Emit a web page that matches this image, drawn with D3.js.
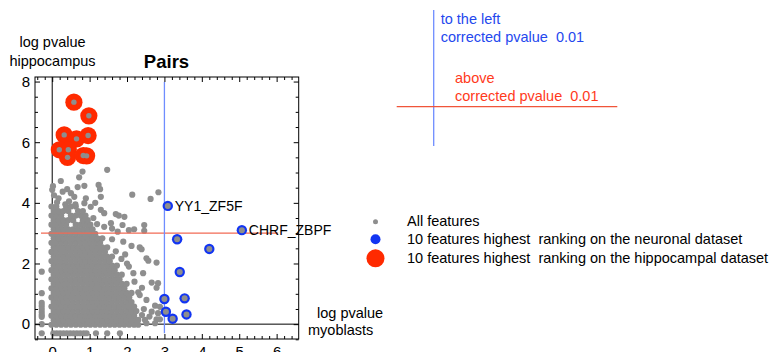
<!DOCTYPE html>
<html>
<head>
<meta charset="utf-8">
<script src="https://cdn.jsdelivr.net/npm/d3@7"></script>
<style>
  html, body { margin: 0; padding: 0; background: #fff; }
  svg { display: block; font-family: "Liberation Sans", Arial, Helvetica, sans-serif; }
</style>
</head>
<body>
<svg id="chart" width="777" height="352"></svg>
<script>
// ---- data -------------------------------------------------------------
// Dense part of the feature cloud, one row per log-pvalue (hippocampus) band:
// [y, [x values]]
const featureRows = [
  [-0.02, [-0.02,.11,.24,.37,.50,.63,.76,.89,1.02,1.15,1.28,1.41,1.54,1.67,1.80,1.93,2.06,2.19,2.30]],
  [0.13, [.04,.17,.30,.43,.56,.69,.82,.95,1.08,1.21,1.34,1.47,1.60,1.73,1.86,1.99,2.12,2.25]],
  [0.28, [-0.02,.11,.24,.37,.50,.63,.76,.89,1.02,1.15,1.28,1.41,1.54,1.67,1.80,1.93,2.06,2.19]],
  [0.43, [.04,.17,.30,.43,.56,.69,.82,.95,1.08,1.21,1.34,1.47,1.60,1.73,1.86,1.99,2.12,2.25]],
  [0.58, [-0.02,.11,.24,.37,.50,.63,.76,.89,1.02,1.15,1.28,1.41,1.54,1.67,1.80,1.93,2.06,2.19]],
  [0.73, [.04,.17,.30,.43,.56,.69,.82,.95,1.08,1.21,1.34,1.47,1.60,1.73,1.86,1.99,2.12]],
  [0.88, [-0.02,.11,.24,.37,.50,.63,.76,.89,1.02,1.15,1.28,1.41,1.54,1.67,1.80,1.93,2.06]],
  [1.03, [.04,.17,.30,.43,.56,.69,.82,.95,1.08,1.21,1.34,1.47,1.60,1.73,1.86,1.99,2.12]],
  [1.18, [-0.02,.11,.24,.37,.50,.63,.76,.89,1.02,1.15,1.28,1.41,1.54,1.67,1.80,1.93]],
  [1.33, [.04,.17,.30,.43,.56,.69,.82,.95,1.08,1.21,1.34,1.47,1.60,1.73,1.86,1.99]],
  [1.48, [-0.02,.11,.24,.37,.50,.63,.76,.89,1.02,1.15,1.28,1.41,1.54,1.67,1.80]],
  [1.63, [.04,.17,.30,.43,.56,.69,.82,.95,1.08,1.21,1.34,1.47,1.60,1.73,1.86]],
  [1.78, [-0.02,.11,.24,.37,.50,.63,.76,.89,1.02,1.15,1.28,1.41,1.54,1.67]],
  [1.93, [.04,.17,.30,.43,.56,.69,.82,.95,1.08,1.21,1.34,1.47,1.60,1.73]],
  [2.08, [-0.02,.11,.24,.37,.50,.63,.76,.89,1.02,1.15,1.28,1.41,1.54]],
  [2.23, [.04,.17,.30,.43,.56,.69,.82,.95,1.08,1.21,1.34,1.47,1.60]],
  [2.38, [-0.02,.11,.24,.37,.50,.63,.76,.89,1.02,1.15,1.28,1.41]],
  [2.53, [.04,.17,.30,.43,.56,.69,.82,.95,1.08,1.21,1.34,1.47]],
  [2.68, [-0.02,.11,.24,.37,.50,.63,.76,.89,1.02,1.15,1.28]],
  [2.83, [.04,.17,.30,.43,.56,.69,.82,.95,1.08,1.21,1.34]],
  [2.98, [-0.02,.11,.24,.37,.50,.63,.76,.89,1.02,1.15]],
  [3.13, [.04,.17,.30,.43,.56,.69,.82,.95,1.08]],
  [3.28, [-0.02,.11,.24,.37,.63,.76,.89,1.02]],
  [3.43, [.04,.17,.30,.43,.56,.82,.95]],
  [3.58, [-0.02,.11,.24,.50,.63,.76,.89]],
  [3.73, [.04,.17,.30,.43,.69,.82]],
  [3.88, [-0.02,.11,.37,.50,.63]]
];

// Features with a negative myoblast score (column at x = -0.28)
const leftColumnX = -0.28;
const leftColumnY = [1.73, 1.02, 0.70, 0.60, 0.50, 0.40, 0.31, 0.24, 0.0, -0.30];

// Features with a negative hippocampus score (row at y = -0.30)
const bottomRowY = -0.30;
const bottomRowX = [0.03, 0.12, 0.21, 0.30, 0.39, 0.48, 0.57, 0.66, 0.75, 0.84, 0.92, 1.17, 1.47, 1.81];

// Isolated features around the cloud: [x, y]
const scatteredFeatures = [
  [0.81,5.03],[0.72,4.84],[1.47,5.09],[0.23,4.72],[0.02,4.55],[0.00,4.43],[0.28,4.37],
  [0.50,4.32],[0.68,4.52],[0.86,4.56],[1.24,4.59],[1.28,4.45],[0.59,4.20],[0.90,4.15],
  [1.30,4.20],[2.14,4.27],[2.63,4.13],[2.84,4.35],[0.86,3.99],[1.03,3.87],[1.30,3.77],
  [1.39,3.66],[1.70,3.63],[1.78,3.58],[1.93,3.54],[1.57,3.33],[1.88,3.27],[2.19,3.13],
  [2.46,3.27],[2.46,3.08],[1.39,3.21],[0.13,4.02],[0.35,3.95],[0.45,4.05],[0.17,4.15],
  [0.05,4.25],[0.62,3.95],[1.15,4.00],[1.10,3.50],[1.20,3.30],[1.60,3.15],[1.75,3.05],
  [2.05,3.10],[0.40,4.45],
  [1.90,2.72],[2.12,2.58],[2.34,2.53],[2.39,2.47],[2.52,2.17],[2.57,2.09],[2.79,2.03],
  [1.95,2.30],[2.00,2.00],[2.17,1.68],[2.43,1.68],[2.66,1.37],[2.83,1.35],[2.79,1.20],
  [2.34,0.96],[2.52,0.80],[2.75,0.61],[2.88,0.57],[2.66,0.41],[2.83,0.36],[2.79,0.16],
  [2.48,0.14],[2.52,0.03],[2.75,0.03],[2.30,0.14],[2.88,0.16],[1.70,2.40],[1.85,2.15],
  [2.20,1.40],[2.40,1.20],[2.45,0.50],[2.60,0.25],[1.60,2.80],[2.05,1.90],[2.30,1.05],
  [2.40,0.30]
];

// Top 10 features on the neuronal dataset
const neuronalX = [3.09, 5.07, 3.34, 4.20, 3.41, 3.00, 3.54, 3.04, 3.22, 3.59];
const neuronalY = [3.90, 3.10, 2.80, 2.48, 1.72, 0.83, 0.85, 0.41, 0.18, 0.32];
const neuronalNames = ["YY1_ZF5F", "CHRF_ZBPF", "", "", "", "", "", "", "", ""];

// Top 10 features on the hippocampal dataset
const hippocampalX = [0.58, 0.98, 0.32, 0.65, 0.96, 0.19, 0.43, 0.41, 0.83, 0.92];
const hippocampalY = [7.32, 6.87, 6.24, 6.11, 6.22, 5.75, 5.75, 5.50, 5.56, 5.55];

// Significance thresholds (log corrected pvalue 0.01)
const thresholdX = 3;
const thresholdY = 3;

const xMajorTicks = [0, 1, 2, 3, 4, 5, 6];
const yMajorTicks = [0, 2, 4, 6, 8];

const legendLabels = [
  "All features",
  "10 features highest  ranking on the neuronal dataset",
  "10 features highest  ranking on the hippocampal dataset"
];

// ---- layout -----------------------------------------------------------
const GRAY = "#8e8e8e", RED = "#ff2a00", BLUE = "#1235f2";
const LINE_BLUE = "#6f8dff", LINE_RED = "#f26a55";
const TEXT_BLUE = "#2448ee", TEXT_RED = "#ff3a1c";

const frame = { left: 35, right: 298.7, top: 77, bottom: 339 };
const x = d3.scaleLinear().domain([-0.46, 6.59]).range([frame.left, frame.right]);
const y = d3.scaleLinear().domain([-0.49, 8.15]).range([frame.bottom, frame.top]);

const svg = d3.select("#chart");

// flatten feature cloud
const features = [];
featureRows.forEach(([yy, xs]) => xs.forEach(xx => features.push([xx, yy])));
leftColumnY.forEach(yy => features.push([leftColumnX, yy]));
bottomRowX.forEach(xx => features.push([xx, bottomRowY]));
scatteredFeatures.forEach(p => features.push(p));

const plot = svg.append("g");

// axes through the origin
plot.append("line")
  .attr("x1", frame.left).attr("x2", frame.right)
  .attr("y1", y(0)).attr("y2", y(0))
  .attr("stroke", "#000").attr("stroke-width", 1);
plot.append("line")
  .attr("x1", x(0)).attr("x2", x(0))
  .attr("y1", frame.top).attr("y2", frame.bottom)
  .attr("stroke", "#000").attr("stroke-width", 1);

// all features
plot.append("g").selectAll("circle").data(features).join("circle")
  .attr("cx", d => x(d[0])).attr("cy", d => y(d[1]))
  .attr("r", 3.1).attr("fill", GRAY);

// thresholds
plot.append("line")
  .attr("x1", x(-0.3)).attr("x2", x(6.04))
  .attr("y1", y(thresholdY)).attr("y2", y(thresholdY))
  .attr("stroke", LINE_RED).attr("stroke-width", 1.3);
plot.append("line")
  .attr("x1", x(thresholdX)).attr("x2", x(thresholdX))
  .attr("y1", y(-0.3)).attr("y2", y(7.99))
  .attr("stroke", LINE_BLUE).attr("stroke-width", 1.3);

// hippocampal top 10: red discs with gray centres
const hip = hippocampalX.map((v, i) => [v, hippocampalY[i]]);
plot.append("g").selectAll("circle").data(hip).join("circle")
  .attr("cx", d => x(d[0])).attr("cy", d => y(d[1]))
  .attr("r", 8.6).attr("fill", RED);
plot.append("g").selectAll("circle").data(hip).join("circle")
  .attr("cx", d => x(d[0])).attr("cy", d => y(d[1]))
  .attr("r", 2.7).attr("fill", GRAY);

// neuronal top 10: blue rings with gray centres
const neu = neuronalX.map((v, i) => [v, neuronalY[i], neuronalNames[i]]);
plot.append("g").selectAll("circle").data(neu).join("circle")
  .attr("cx", d => x(d[0])).attr("cy", d => y(d[1]))
  .attr("r", 5.2).attr("fill", BLUE);
plot.append("g").selectAll("circle").data(neu).join("circle")
  .attr("cx", d => x(d[0])).attr("cy", d => y(d[1]))
  .attr("r", 3.0).attr("fill", GRAY);
plot.append("g").selectAll("text").data(neu.filter(d => d[2])).join("text")
  .attr("x", d => x(d[0]) + 7).attr("y", d => y(d[1]) + 5)
  .attr("font-size", 14).attr("fill", "#000")
  .text(d => d[2]);

// ---- frame with inward ticks -----------------------------------------
const xMinor = d3.range(-0.4, 6.6, 0.2).map(v => +v.toFixed(1)).filter(v => !xMajorTicks.includes(v));
const yMinor = d3.range(-0.5, 8.1, 0.5).filter(v => !yMajorTicks.includes(v));

function frameAxis(axisFn, scale, values, len, labels, pad, transform) {
  const g = svg.append("g").attr("transform", transform)
    .call(axisFn(scale).tickValues(values).tickSize(-len).tickPadding(pad)
      .tickFormat(labels ? d3.format("d") : () => ""));
  g.select(".domain").remove();
  g.selectAll("line").attr("stroke", "#000").attr("stroke-width", 1);
  g.selectAll("text").attr("font-size", 15).attr("fill", "#000")
    .attr("font-family", "'Liberation Sans', Arial, sans-serif");
  return g;
}
frameAxis(d3.axisBottom, x, xMajorTicks, 5, true, 7, `translate(0,${frame.bottom})`);
frameAxis(d3.axisBottom, x, xMinor, 3, false, 7, `translate(0,${frame.bottom})`);
frameAxis(d3.axisTop, x, xMajorTicks, 5, false, 7, `translate(0,${frame.top})`);
frameAxis(d3.axisTop, x, xMinor, 3, false, 7, `translate(0,${frame.top})`);
frameAxis(d3.axisLeft, y, yMajorTicks, 5, true, 5, `translate(${frame.left},0)`);
frameAxis(d3.axisLeft, y, yMinor, 3, false, 5, `translate(${frame.left},0)`);
frameAxis(d3.axisRight, y, yMajorTicks, 5, false, 5, `translate(${frame.right},0)`);
frameAxis(d3.axisRight, y, yMinor, 3, false, 5, `translate(${frame.right},0)`);

svg.append("rect")
  .attr("x", frame.left).attr("y", frame.top)
  .attr("width", frame.right - frame.left).attr("height", frame.bottom - frame.top)
  .attr("fill", "none").attr("stroke", "#000").attr("stroke-width", 1);

// ---- titles and axis labels ------------------------------------------
svg.append("text").attr("x", 166.5).attr("y", 68)
  .attr("text-anchor", "middle").attr("font-size", 18.5).attr("font-weight", "bold")
  .text("Pairs");

svg.append("text").attr("x", 52.5).attr("y", 47).attr("text-anchor", "middle")
  .attr("font-size", 14.5).text("log pvalue");
svg.append("text").attr("x", 52.5).attr("y", 66).attr("text-anchor", "middle")
  .attr("font-size", 14.5).text("hippocampus");

svg.append("text").attr("x", 317).attr("y", 318).attr("font-size", 14.5).text("log pvalue");
svg.append("text").attr("x", 308).attr("y", 335).attr("font-size", 14.5).text("myoblasts");

// ---- threshold key (top right) ---------------------------------------
svg.append("line").attr("x1", 433.7).attr("x2", 433.7).attr("y1", 10).attr("y2", 146)
  .attr("stroke", LINE_BLUE).attr("stroke-width", 1.3);
svg.append("line").attr("x1", 396.7).attr("x2", 617.3).attr("y1", 106.7).attr("y2", 106.7)
  .attr("stroke", "#f0553a").attr("stroke-width", 1.2);
svg.append("text").attr("x", 440.7).attr("y", 23.5).attr("font-size", 14.5)
  .attr("fill", TEXT_BLUE).text("to the left");
svg.append("text").attr("x", 440.7).attr("y", 42).attr("font-size", 14.5)
  .attr("fill", TEXT_BLUE).attr("xml:space", "preserve").text("corrected pvalue  0.01");
svg.append("text").attr("x", 455).attr("y", 82.5).attr("font-size", 14.5)
  .attr("fill", TEXT_RED).text("above");
svg.append("text").attr("x", 455).attr("y", 101).attr("font-size", 14.5)
  .attr("fill", TEXT_RED).attr("xml:space", "preserve").text("corrected pvalue  0.01");

// ---- legend ----------------------------------------------------------
const legendMarks = [
  { r: 2.5, fill: GRAY, cy: 221.7 },
  { r: 5, fill: BLUE, cy: 239.3 },
  { r: 9, fill: RED, cy: 258.3 }
];
const legend = svg.append("g");
legend.selectAll("circle").data(legendMarks).join("circle")
  .attr("cx", 375.5).attr("cy", d => d.cy).attr("r", d => d.r).attr("fill", d => d.fill);
legend.selectAll("text").data(legendLabels).join("text")
  .attr("x", 407).attr("y", (d, i) => legendMarks[i].cy + 4.5)
  .attr("font-size", 14.5).attr("xml:space", "preserve")
  .style("white-space", "pre")
  .text(d => d);
</script>
</body>
</html>
